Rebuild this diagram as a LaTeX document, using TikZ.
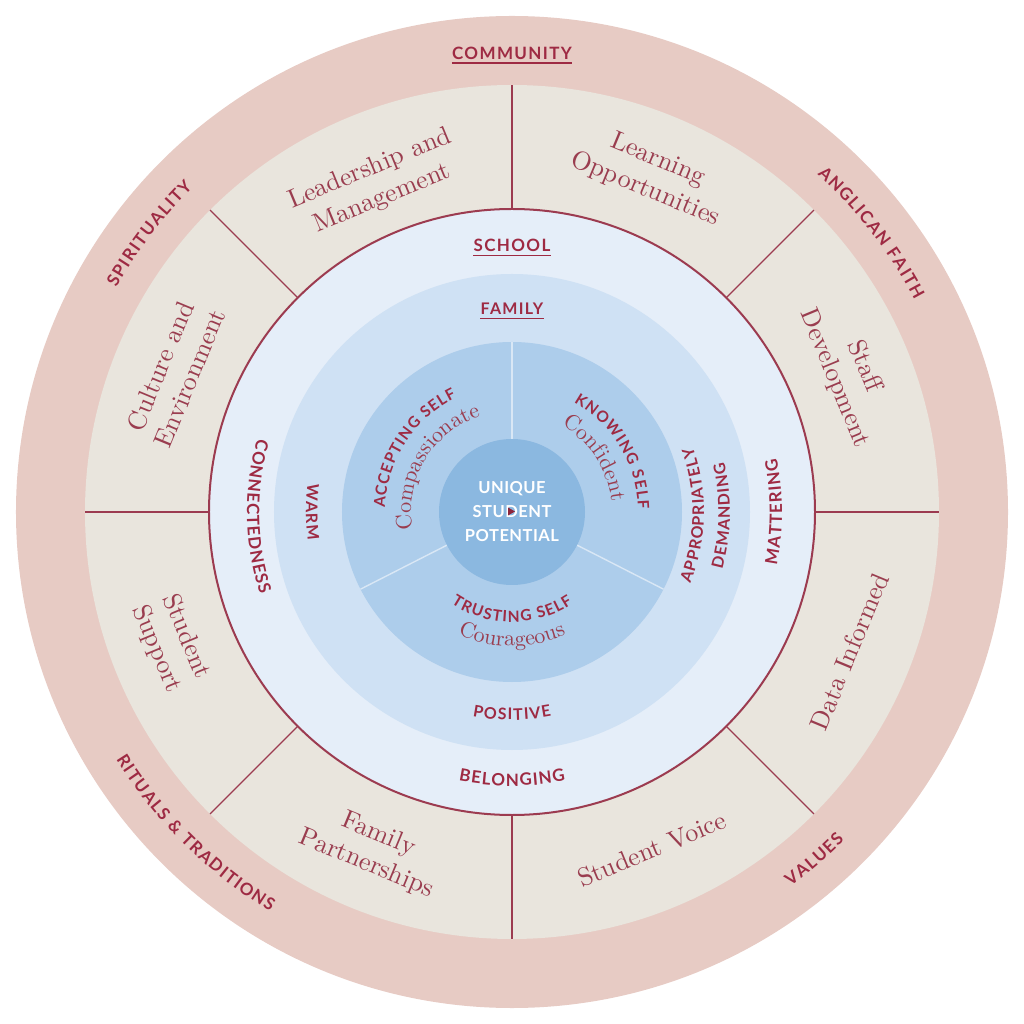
\documentclass[tikz,border=0pt]{standalone}
\usepackage{fontspec}
\usetikzlibrary{decorations.text}
\newfontfamily\capfont[LetterSpace=8]{Lato}
\newfontfamily\corefont[LetterSpace=3]{Lato}
\newfontfamily\serifb{lmroman10-regular.otf}
\definecolor{pinkring}{HTML}{E7CBC4}
\definecolor{beigering}{HTML}{E9E5DD}
\definecolor{schoolblue}{HTML}{E5EEF9}
\definecolor{familyblue}{HTML}{CFE1F4}
\definecolor{innerblue}{HTML}{ADCDEB}
\definecolor{coreblue}{HTML}{8BB8E0}
\definecolor{labred}{HTML}{9E2A43}
\definecolor{serifred}{HTML}{9A3D4F}
\definecolor{divred}{HTML}{9C3B50}
\definecolor{softline}{HTML}{D9E7F5}
\newcommand{\fouter}{\capfont\bfseries\fontsize{17}{20}\selectfont}
\newcommand{\ffam}{\capfont\bfseries\fontsize{16}{19}\selectfont}
\newcommand{\fself}{\capfont\bfseries\fontsize{15.5}{18}\selectfont}
\newcommand{\fserif}{\serifb\fontsize{22}{26}\selectfont}
\newcommand{\gA}{\kern1.4pt}
\newcommand{\gS}{\kern1.0pt}
\newcommand{\gB}{\kern1.0pt}
\newcommand{\gC}{\kern1.2pt}
% tops outward, clockwise
\newcommand{\arcout}[5]{%
  \path[decorate,decoration={text along path,text align=center,text color=#4,text={#5}}]
    ({#2+#3}:#1) arc[start angle={#2+#3},end angle={#2-#3},radius=#1];}
% tops inward, counterclockwise
\newcommand{\arcin}[5]{%
  \path[decorate,decoration={text along path,text align=center,text color=#4,text={#5}}]
    ({#2-#3}:#1) arc[start angle={#2-#3},end angle={#2+#3},radius=#1];}
\tikzset{
  seclab/.style={font=\serifb\fontsize{26}{32}\selectfont,text=serifred,align=center,inner sep=0pt},
  toplab/.style={font=\fouter,text=labred,inner sep=0pt,anchor=base},
  uline/.style={draw=labred,line width=1.3pt},
  divider/.style={draw=divred,line width=1.4pt},
  softdiv/.style={draw=softline,line width=1.4pt}
}
\begin{document}
\begin{tikzpicture}[x=1pt,y=1pt]
\useasboundingbox (-512pt,-512pt) rectangle (512pt,512pt);
% rings
\fill[pinkring] (0,0) circle[radius=496pt];
\fill[beigering] (0,0) circle[radius=427pt];
\foreach \a in {0,45,...,315} \draw[divider] (\a:303pt) -- (\a:427pt);
\filldraw[fill=schoolblue,draw=divred,line width=2pt] (0,0) circle[radius=303pt];
\fill[familyblue] (0,0) circle[radius=238pt];
\fill[innerblue] (0,0) circle[radius=170pt];
\foreach \a in {90,207,333} \draw[softdiv] (\a:73pt) -- (\a:170pt);
\fill[coreblue] (0,0) circle[radius=73pt];

% outer ring labels
\node[toplab] (community) at (0,452.7pt) {COMMUNITY};
\draw[uline] ([yshift=-3.8pt]community.base west) -- ([yshift=-3.8pt]community.base east);
\arcout{455pt}{142.5}{30}{labred}{|\fouter|S{\gA}P{\gA}I{\gA}R{\gA}I{\gA}T{\gA}U{\gA}A{\gA}L{\gA}I{\gA}T{\gA}Y}
\arcout{455pt}{37.8}{30}{labred}{|\fouter|A{\gA}N{\gA}G{\gA}L{\gA}I{\gA}C{\gA}A{\gA}N{\gA} F{\gA}A{\gA}I{\gA}T{\gA}H}
\arcin{467pt}{225.4}{40}{labred}{|\fouter|R{\gA}I{\gA}T{\gA}U{\gA}A{\gA}L{\gA}S{\gA} {\&}{\gA} T{\gA}R{\gA}A{\gA}D{\gA}I{\gA}T{\gA}I{\gA}O{\gA}N{\gA}S}
\arcin{467pt}{311}{30}{labred}{|\fouter|V{\gA}A{\gA}L{\gA}U{\gA}E{\gA}S}

% sector labels
\node[seclab,rotate=22.5] (lead) at (112.5:355pt) {Leadership and\\Management};
\node[seclab,rotate=-22.5] (learn) at (67.5:365pt) {Learning\\Opportunities};
\node[seclab,rotate=-67.5] (staff) at (22.5:365pt) {Staff\\Development};
\node[seclab,rotate=67.5] (data) at (337.5:365pt) {Data Informed};
\node[seclab,rotate=22.5] (voice) at (292.5:365pt) {Student Voice};
\node[seclab,rotate=-22.5] (partner) at (247.5:365pt) {Family\\Partnerships};
\node[seclab,rotate=-67.5] (support) at (201pt:365pt) {Student\\Support};
\node[seclab,rotate=67.5] (culture) at (157.5:365pt) {Culture and\\Environment};

% school ring
\node[toplab] (school) at (0,260.3pt) {SCHOOL};
\draw[uline] ([yshift=-3.6pt]school.base west) -- ([yshift=-3.6pt]school.base east);
\arcin{265pt}{181}{40}{labred}{|\fouter|C{\gS}O{\gS}N{\gS}N{\gS}E{\gS}C{\gS}T{\gS}E{\gS}D{\gS}N{\gS}E{\gS}S{\gS}S}
\arcin{270pt}{0}{40}{labred}{|\fouter|M{\gS}A{\gS}T{\gS}T{\gS}E{\gS}R{\gS}I{\gS}N{\gS}G}
\arcin{274pt}{270}{40}{labred}{|\fouter|B{\gS}E{\gS}L{\gS}O{\gS}N{\gS}G{\gS}I{\gS}N{\gS}G}

% family ring
\node[toplab,font=\ffam] (family) at (0,197pt) {FAMILY};
\draw[uline] ([yshift=-3.8pt]family.base west) -- ([yshift=-3.8pt]family.base east);
\arcin{206pt}{180}{40}{labred}{|\ffam|W{\gB}A{\gB}R{\gB}M}
\arcin{192pt}{-1}{50}{labred}{|\ffam|A{\gB}P{\gB}P{\gB}R{\gB}O{\gB}P{\gB}R{\gB}I{\gB}A{\gB}T{\gB}E{\gB}L{\gB}Y}
\arcin{218pt}{-1}{50}{labred}{|\ffam|D{\gB}E{\gB}M{\gB}A{\gB}N{\gB}D{\gB}I{\gB}N{\gB}G}
\arcin{208pt}{270}{40}{labred}{|\ffam|P{\gC}O{\gC}S{\gC}I{\gC}T{\gC}I{\gC}V{\gC}E}

% inner ring
\arcout{127pt}{147}{75}{labred}{|\fself|A{\gB}C{\gB}C{\gB}E{\gB}P{\gB}T{\gB}I{\gB}N{\gB}G{\gB} S{\gB}E{\gB}L{\gB}F}
\arcout{101pt}{149}{85}{serifred}{|\fserif|Compassionate}
\arcout{126pt}{31}{75}{labred}{|\fself|K{\gC}N{\gC}O{\gC}W{\gC}I{\gC}N{\gC}G{\gC} S{\gC}E{\gC}L{\gC}F}
\arcout{100pt}{33}{85}{serifred}{|\fserif|Confident}
\arcin{110pt}{270}{75}{labred}{|\fself|T{\gC}R{\gC}U{\gC}S{\gC}T{\gC}I{\gC}N{\gC}G{\gC} S{\gC}E{\gC}L{\gC}F}
\arcin{134pt}{270}{75}{serifred}{|\fserif|Courageous}

% core
\node[align=center,text=white,font=\corefont\bfseries\fontsize{16.5}{24}\selectfont,inner sep=0pt] (core) at (0,0) {UNIQUE\\STUDENT\\POTENTIAL};
\fill[labred!90!black] (-4pt,4.5pt) -- (3pt,0.5pt) -- (-4pt,-3.5pt) -- cycle;
\end{tikzpicture}
\end{document}
